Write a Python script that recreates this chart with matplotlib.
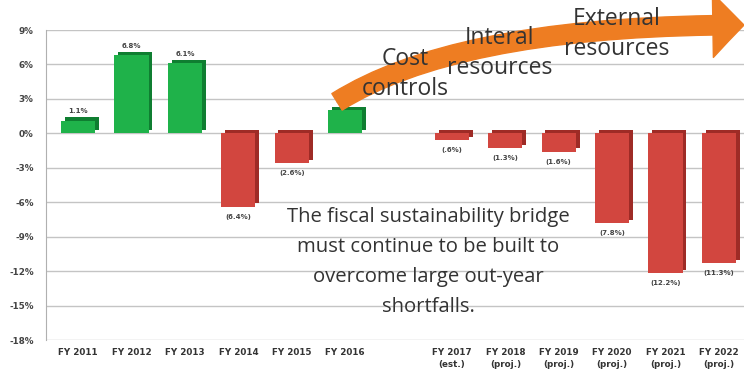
import numpy as np
import matplotlib.pyplot as plt
from matplotlib.patches import FancyArrowPatch
from matplotlib.path import Path

years = ['FY 2011', 'FY 2012', 'FY 2013', 'FY 2014', 'FY 2015', 'FY 2016',
         '', 'FY 2017\n(est.)', 'FY 2018\n(proj.)', 'FY 2019\n(proj.)',
         'FY 2020\n(proj.)', 'FY 2021\n(proj.)', 'FY 2022\n(proj.)']
values = [1.1, 6.8, 6.1, -6.4, -2.6, 2.0, np.nan, -0.6, -1.3, -1.6, -7.8, -12.2, -11.3]
value_labels = ['1.1%', '6.8%', '6.1%', '(6.4%)', '(2.6%)', '1.9%', '',
                '(.6%)', '(1.3%)', '(1.6%)', '(7.8%)', '(12.2%)', '(11.3%)']
yticks = [9, 6, 3, 0, -3, -6, -9, -12, -15, -18]

green, green_dark = '#1fb24a', '#0f7e31'
red, red_dark = '#d2463f', '#9e2b26'

fig = plt.figure(figsize=(7.44, 3.8), dpi=100)
ax = fig.add_axes([0.062, 0.105, 0.938, 0.816])

x = np.arange(len(years))
vals = np.array(values)
face = [green if v > 0 else red for v in np.nan_to_num(vals)]
side = [green_dark if v > 0 else red_dark for v in np.nan_to_num(vals)]

# fake 3d depth: darker copy slightly shifted
ax.bar(x + 0.07, vals, 0.64, bottom=0.3, color=side, zorder=2)
ax.bar(x, vals, 0.64, color=face, zorder=3)

for xi, v, lab in zip(x, vals, value_labels):
    if np.isnan(v):
        continue
    if v > 0:
        ax.text(xi, v + 0.55, lab, ha='center', va='bottom', fontsize=5,
                fontweight='bold', color='#444444', zorder=4)
    else:
        ax.text(xi, v - 0.6, lab, ha='center', va='top', fontsize=5,
                fontweight='bold', color='#444444', zorder=4)

ax.set_ylim(-18, 9)
ax.set_xlim(-0.6, 12.47)
ax.set_yticks(yticks)
ax.set_yticklabels([f'{t}%' for t in yticks], fontsize=6.3, fontweight='bold', color='#444444')
ax.set_xticks(x)
ax.set_xticklabels(years, fontsize=6.3, fontweight='bold', color='#333333', linespacing=1.35, va='top')
ax.tick_params(axis='y', length=0, pad=9)
ax.tick_params(axis='x', length=0, pad=6)
ax.grid(axis='y', color='#c4c4c4', linewidth=1.0, zorder=0)
for s in ['top', 'right', 'bottom']:
    ax.spines[s].set_visible(False)
ax.spines['left'].set_color('#b0b0b0')

# orange bridge arrow (quadratic curve in figure fraction)
bridge = Path([(0.453, 0.732), (0.618, 0.934), (1.0, 0.934)],
              [Path.MOVETO, Path.CURVE3, Path.CURVE3])
arrow = FancyArrowPatch(path=bridge, transform=fig.transFigure,
                        arrowstyle='simple,head_width=3.3,head_length=1.6,tail_width=1.0',
                        mutation_scale=14, color='#ee7d22', zorder=5, clip_on=False)
fig.add_artist(arrow)

txt = dict(ha='center', va='center', fontsize=16.5, color='#333333',
           family='Open Sans', linespacing=1.3, zorder=6)
fig.text(405 / 744, 1 - 74 / 380, 'Cost\ncontrols', **txt)
fig.text(500 / 744, 1 - 53 / 380, 'Interal\nresources', **txt)
fig.text(617 / 744, 1 - 34 / 380, 'External\nresources', **txt)

fig.text(428 / 744, 1 - 262 / 380,
         'The fiscal sustainability bridge\nmust continue to be built to\n'
         'overcome large out-year\nshortfalls.',
         ha='center', va='center', fontsize=14.6, color='#333333',
         family='Open Sans', linespacing=1.66)

fig.savefig('out.png', dpi=100, facecolor='white')
